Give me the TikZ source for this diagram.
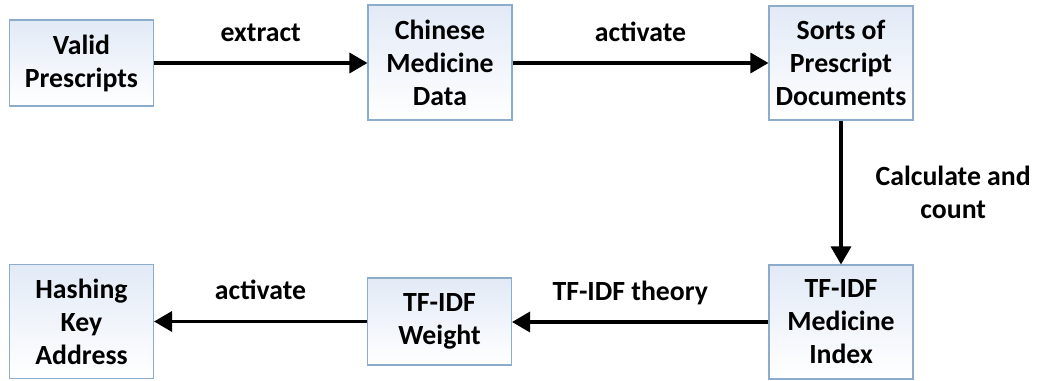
\documentclass[tikz,border=0pt]{standalone}
\usepackage{fontspec}
\setmainfont{Carlito}
\usetikzlibrary{arrows.meta}
\definecolor{boxline}{RGB}{140,172,204}
\definecolor{boxfill}{RGB}{226,234,246}
\tikzset{
	stepbox/.style={draw=boxline, line width=0.6pt, top color=boxfill, bottom color=white,
		minimum width=2.88cm, align=center, inner sep=0pt},
	flow/.style={line width=1.9pt, -{Triangle[length=0.36cm,width=0.4cm]}},
	lbl/.style={inner sep=0pt, text depth=0pt}
}
\begin{document}
\begin{tikzpicture}[font=\fontsize{15.8}{18.8}\selectfont\bfseries]
		%%%%% START %%%%%
		\useasboundingbox (0, 0) rectangle (20.78, 7.62);
		
		% top row
		\node[stepbox, minimum height=1.72cm] (valid) at (1.63, 6.36) {Valid\\Prescripts};
		\node[stepbox, minimum height=2.30cm] (chinese) at (8.80, 6.37) {Chinese\\Medicine\\Data};
		\node[stepbox, minimum height=2.28cm] (sorts) at (16.82, 6.36) {Sorts of\\Prescript\\Documents};
		
		% bottom row
		\node[stepbox, minimum height=2.27cm] (hashing) at (1.63, 1.19) {Hashing\\Key\\Address};
		\node[stepbox, minimum height=1.74cm] (weight) at (8.79, 1.19) {TF-IDF\\Weight};
		\node[stepbox, minimum height=2.28cm] (index) at (16.82, 1.18) {TF-IDF\\Medicine\\Index};
		
		\draw[flow] (valid.east) -- node[lbl, above=0.4cm] (extractlbl) {extract} (chinese.west |- valid.east);
		\draw[flow] (chinese.east |- sorts.west) -- node[lbl, above=0.4cm] (activatetop) {activate} (sorts.west);
		\draw[flow] (sorts.south) -- node[lbl, right=0.66cm, align=center] (calclbl) {Calculate and\\count} (index.north);
		\draw[flow] (index.west) -- node[lbl, above=0.4cm, xshift=-0.2cm] (theorylbl) {TF-IDF theory} (weight.east |- index.west);
		\draw[flow] (weight.west) -- node[lbl, above=0.4cm] (activatebot) {activate} (hashing.east |- weight.west);
		
		%%%%% END %%%%%
	\end{tikzpicture}
\end{document}
